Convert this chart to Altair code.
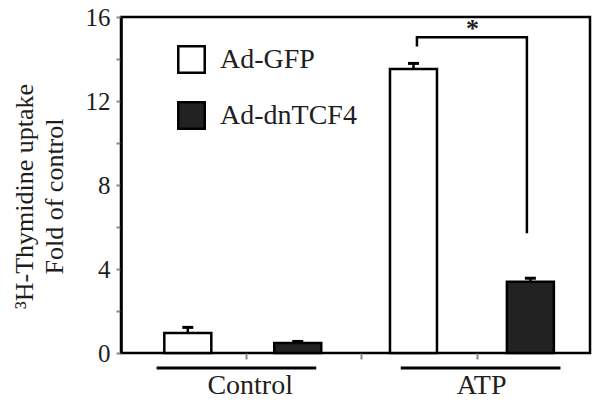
import altair as alt
import pandas as pd

# ---- data ----
series = ["Ad-GFP", "Ad-dnTCF4", "Ad-GFP", "Ad-dnTCF4"]
groups = ["Control", "Control", "ATP", "ATP"]
bar_x = [0.50, 1.45, 2.45, 3.46]
values = [0.95, 0.48, 13.52, 3.39]
err_top = [1.22, 0.55, 13.79, 3.56]

category_labels = ["Control", "ATP"]
category_ticks = [1, 3]
underline_x = [0.23, 2.34]
underline_x2 = [1.61, 3.72]

bracket_x = [2.48, 2.48, 3.43, 3.43]
bracket_y = [14.59, 15.04, 15.04, 5.7]

star_x = [2.96]
star_y = [15.45]
star_text = ["*"]

y_title = ["\u00a0\u00a0\u00a0³H-Thymidine uptake", "Fold of control\u00a0\u00a0\u00a0\u00a0"]
y_ticks = list(range(0, 17, 2))
x_ticks = [1, 2, 3]
x_domain = [-0.034, 3.932]
series_order = ["Ad-GFP", "Ad-dnTCF4"]
series_colors = ["white", "#222222"]

FONT = "Liberation Serif"
INK = "#1e1e1e"

bars = pd.DataFrame({"series": series, "group": groups, "x": bar_x,
                     "value": values, "err": err_top})
under = pd.DataFrame({"x": underline_x, "x2": underline_x2, "y": [0, 0]})
bracket = pd.DataFrame({"x": bracket_x, "y": bracket_y, "o": list(range(len(bracket_x)))})
star = pd.DataFrame({"x": star_x, "y": star_y, "t": star_text})

label_expr = " : ".join(
    f"datum.value == {t} ? '{l}'" for t, l in zip(category_ticks, category_labels)
) + " : ''"

x_scale = alt.Scale(domain=x_domain, nice=False, zero=False)
y_scale = alt.Scale(domain=[0, 16], nice=False)

x_enc = alt.X("x:Q", scale=x_scale, axis=alt.Axis(
    values=x_ticks, labelExpr=label_expr, title=None, grid=False,
    tickSize=6, tickWidth=2, labelFontSize=28, labelFont=FONT, labelColor=INK,
    labelPadding=12, labelBaseline="top", labelOffset=4, domain=False, labelFlush=False))
y_enc = alt.Y("value:Q", scale=y_scale, axis=alt.Axis(
    values=y_ticks, labelExpr="datum.value % 4 == 0 ? datum.label : ''",
    title=y_title, grid=False,
    tickSize=5, tickWidth=2, labelFontSize=25, labelFont=FONT, labelColor=INK,
    labelPadding=6, domainWidth=2.5, domainColor="black",
    titleFont=FONT, titleFontSize=26, titleFontWeight="normal", titleColor=INK,
    titleAngle=270, titleX=-97, titleY=179, titleAlign="center",
    titleBaseline="middle", titleLineHeight=30))

bar_layer = alt.Chart(bars).mark_bar(size=47, stroke="black", strokeWidth=2.5).encode(
    x=x_enc, y=y_enc,
    fill=alt.Fill("series:N", scale=alt.Scale(domain=series_order, range=series_colors),
                  legend=alt.Legend(orient="none", legendX=56, legendY=28, title=None,
                                    symbolType="square", symbolSize=700,
                                    symbolStrokeColor="black", symbolStrokeWidth=2.5,
                                    labelFontSize=28, labelFont=FONT, labelColor=INK,
                                    labelOffset=14, rowPadding=19)),
)

err_rule = alt.Chart(bars).mark_rule(strokeWidth=2.5, color="black").encode(
    x="x:Q", y="value:Q", y2="err:Q")
err_cap = alt.Chart(bars).mark_tick(orient="horizontal", size=11, thickness=3,
                                     color="black", opacity=1).encode(
    x="x:Q", y="err:Q")

under_layer = alt.Chart(under).mark_rule(strokeWidth=3, color="black", yOffset=15).encode(
    x="x:Q", x2="x2:Q", y="y:Q")

bracket_layer = alt.Chart(bracket).mark_line(strokeWidth=2.5, color="black").encode(
    x="x:Q", y="y:Q", order="o:Q")

star_layer = alt.Chart(star).mark_text(fontSize=26, fontWeight="bold", font=FONT,
                                       color=INK, baseline="middle").encode(
    x="x:Q", y="y:Q", text="t:N")

chart = alt.layer(bar_layer, err_rule, err_cap, under_layer, bracket_layer, star_layer).properties(
    width=469, height=336,
    autosize=alt.AutoSizeParams(type="none"),
    padding={"left": 113, "top": 9, "right": 3, "bottom": 47},
    background="white",
).configure_view(stroke="black", strokeWidth=2.5)

chart.save("out.html", embed_options={"renderer": "svg", "actions": False})
